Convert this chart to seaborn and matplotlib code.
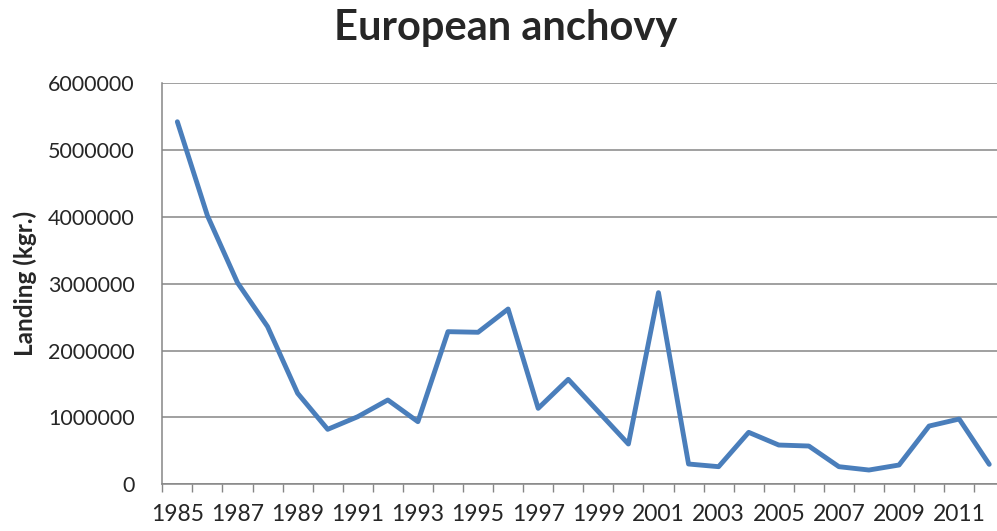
import pandas as pd
import seaborn as sns
import matplotlib.pyplot as plt
from matplotlib.ticker import FixedLocator

# Landings
years = list(range(1985, 2013))
landing = [5425000, 4020000, 3017000, 2360000, 1362000, 823000, 1012000, 1262000,
           937000, 2284000, 2275000, 2623000, 1137000, 1571000, 1087000, 603000,
           2868000, 304000, 264000, 778000, 588000, 573000, 264000, 214000,
           289000, 872000, 977000, 299000]
tick_years = list(range(1985, 2012, 2))

df = pd.DataFrame({'year': years, 'landing': landing})

sns.set_style('white')
plt.rcParams['font.family'] = ['Lato', 'DejaVu Sans']

fig = plt.figure(figsize=(9.97, 5.31), dpi=100)
ax = fig.add_axes([0.1628, 0.0879, 0.8445, 0.7552])

sns.lineplot(data=df, x='year', y='landing', color='#4A7EBB', linewidth=3.5, ax=ax)

ax.set_xlim(1984.5, 2012.5)
ax.set_ylim(0, 6000000)
ax.set_yticks(range(0, 6000001, 1000000))
ax.set_yticklabels([str(v) for v in range(0, 6000001, 1000000)])
ax.yaxis.grid(True, color='#868686', linewidth=1.1)
ax.set_axisbelow(True)

ax.set_xticks(tick_years)
ax.set_xticklabels([str(y) for y in tick_years])
ax.xaxis.set_minor_locator(FixedLocator([y + 0.5 for y in range(1984, 2013)]))
ax.tick_params(axis='x', which='major', length=0, pad=14, labelsize=16.5)
ax.tick_params(axis='x', which='minor', length=6, width=1, color='#868686', direction='out', bottom=True)
ax.tick_params(axis='y', length=0, pad=20, labelsize=15.5)

for side in ['top', 'right']:
    ax.spines[side].set_visible(False)
for side in ['left', 'bottom']:
    ax.spines[side].set_color('#868686')
    ax.spines[side].set_linewidth(1.1)

ax.set_xlabel('')
ax.set_ylabel('Landing (kgr.)', fontsize=17.5, fontweight='bold', labelpad=8)
fig.text(0.507, 0.948, 'European anchovy', ha='center', va='center', fontsize=30, fontweight='bold')

fig.savefig('out.png', dpi=100)
